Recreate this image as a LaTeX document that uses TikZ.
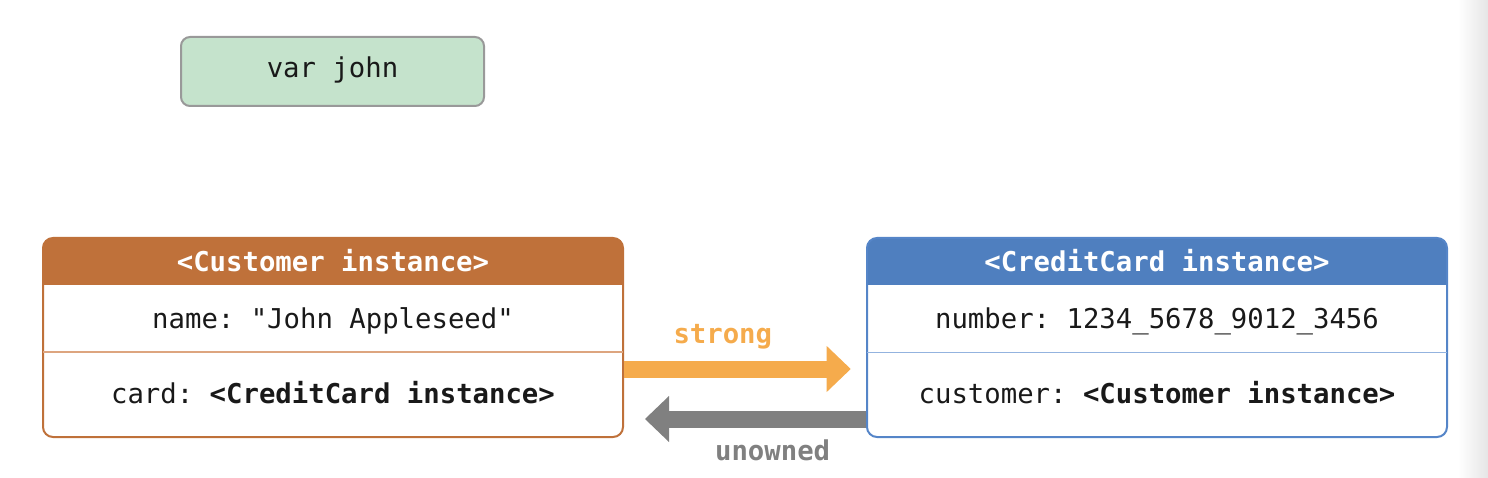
\documentclass[tikz,border=0pt]{standalone}
\usepackage{fontspec}
\setmonofont{DejaVu Sans Mono}
\usetikzlibrary{arrows.meta}

% 颜色
\definecolor{custbrown}{HTML}{BF713A}
\definecolor{custdiv}{HTML}{DDA57F}
\definecolor{cardblue}{HTML}{4F7FBF}
\definecolor{cardline}{HTML}{5585C8}
\definecolor{carddiv}{HTML}{93B3DF}
\definecolor{varfill}{HTML}{C5E3CC}
\definecolor{varline}{HTML}{999999}
\definecolor{strongcol}{HTML}{F5AB4C}
\definecolor{weakcol}{HTML}{808080}

\tikzset{
  varbox/.style={draw=varline, fill=varfill, line width=2pt, rounded corners=9pt,
    minimum width=303pt, minimum height=69pt, text height=20pt, text depth=7pt},
  objbox/.style 2 args={draw=#2, line width=2pt, rounded corners=10pt,
    minimum width=580pt, minimum height=199pt, inner sep=0pt,
    path picture={\fill[#1, sharp corners] (path picture bounding box.north west)
      rectangle ([yshift=-47pt]path picture bounding box.north east);}},
  headtext/.style={anchor=base, text=white, font=\ttfamily\bfseries\fontsize{27.3pt}{33pt}\selectfont},
  rowtext/.style={anchor=base, text=black!90},
  reflabel/.style={anchor=base, text=#1, font=\ttfamily\bfseries\fontsize{27.3pt}{33pt}\selectfont},
  refarrow/.style={draw=#1, line width=17pt,
    -{Triangle[length=24pt, width=46pt, line width=0pt]}}
}

\begin{document}
\begin{tikzpicture}[
    x=1pt, y=-1pt,
    font=\ttfamily\fontsize{27.3pt}{33pt}\selectfont
  ]

  % ---------- 画布 ----------
  \useasboundingbox (0,0) rectangle (1488,478);
  \shade[left color=white, right color=black!10] (1458,0) rectangle (1488,478);

  % ---------- 变量 ----------
  \node[varbox, text=black!90] (john) at (332.5,71.5) {var john};

  % ---------- 实例 ----------
  \node[objbox={custbrown}{custbrown}] (cust) at (333,337.5) {};
  \node[objbox={cardblue}{cardline}]   (card) at (1157,337.5) {};

  % 分隔线
  \draw[custdiv, line width=1.5pt] ([xshift=1pt,yshift=-14.5pt]cust.west) -- ([xshift=-1pt,yshift=-14.5pt]cust.east);
  \draw[carddiv, line width=1.5pt] ([xshift=1pt,yshift=-15pt]card.west) -- ([xshift=-1pt,yshift=-15pt]card.east);

  % 文字
  \node[headtext] (custtitle) at ([yshift=66pt]cust.center) {<Customer instance>};
  \node[rowtext]  (custname)  at ([yshift=9.3pt]cust.center) {name: "John Appleseed"};
  \node[rowtext]  (custcard)  at ([yshift=-65.5pt]cust.center) {card: \textbf{<CreditCard instance>}};

  \node[headtext] (cardtitle) at ([yshift=66pt]card.center) {<CreditCard instance>};
  \node[rowtext]  (cardnum)   at ([yshift=9.3pt]card.center) {number: 1234\_5678\_9012\_3456};
  \node[rowtext]  (cardcust)  at ([yshift=-65.5pt]card.center) {customer: \textbf{<Customer instance>}};

  % ---------- 引用 ----------
  \draw[refarrow=strongcol] ([yshift=-31.5pt]cust.east) -- ([xshift=-15.3pt,yshift=-31.5pt]card.west);
  \draw[refarrow=weakcol]   ([yshift=-81.5pt]card.west) -- ([xshift=21pt,yshift=-81.5pt]cust.east);

  \node[reflabel=strongcol] (strongtext) at (722.8,343.5) {strong};
  \node[reflabel=weakcol]   (weaktext)   at (772.6,460) {unowned};

\end{tikzpicture}
\end{document}
